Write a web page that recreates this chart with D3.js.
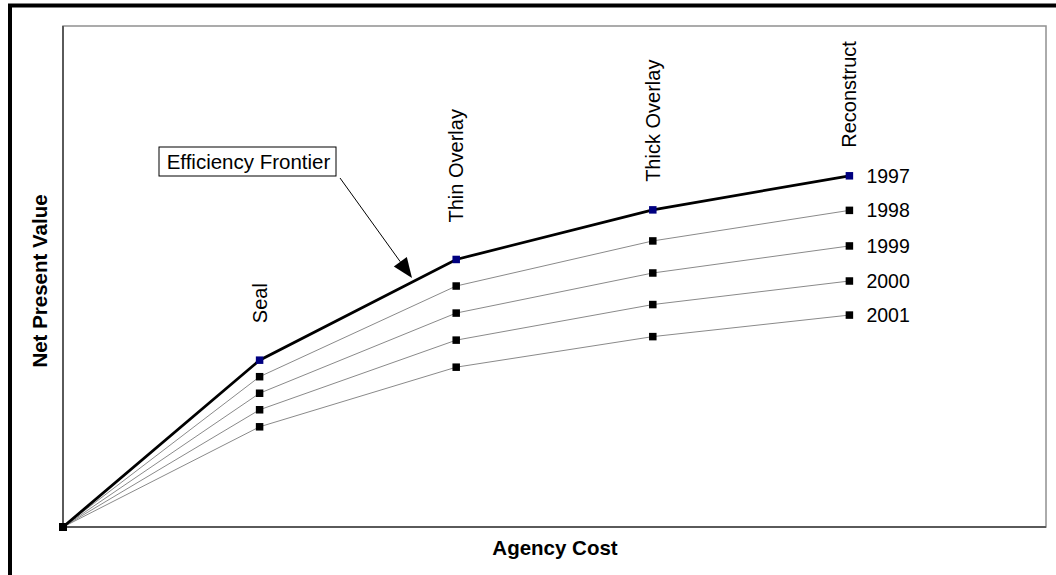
<!DOCTYPE html>
<html><head><meta charset="utf-8">
<script src="https://cdn.jsdelivr.net/npm/d3@7"></script>
<style>body{margin:0;background:#fff;}svg{display:block;font-family:"Liberation Sans",Arial,sans-serif;}</style>
</head><body>
<script>
const categories = ["", "Seal", "Thin Overlay", "Thick Overlay", "Reconstruct"];
const agencyCost = [0, 1, 2, 3, 4];
const years = ["1997", "1998", "1999", "2000", "2001"];
const npv1997 = [0, 33.3, 53.4, 63.3, 70.1];
const npv1998 = [0, 30.0, 48.1, 57.1, 63.2];
const npv1999 = [0, 26.7, 42.7, 50.7, 56.1];
const npv2000 = [0, 23.4, 37.3, 44.4, 49.1];
const npv2001 = [0, 20.0, 31.9, 38.0, 42.3];
const seriesValues = [npv1997, npv1998, npv1999, npv2000, npv2001];
const annotationText = "Efficiency Frontier";
const xTitle = "Agency Cost";
const yTitle = "Net Present Value";

const W = 1056, H = 575;
const svg = d3.select("body").append("svg").attr("width", W).attr("height", H);

// outer frame (cropped at right and bottom)
svg.append("rect").attr("x", 10).attr("y", 5.5).attr("width", W + 20).attr("height", H + 20)
  .attr("fill", "none").attr("stroke", "#000").attr("stroke-width", 4);

const pl = 63, pt = 26, pr = 1046, pb = 527;
const x = d3.scaleLinear().domain([0, 5]).range([pl, pr]);
const y = d3.scaleLinear().domain([0, 100]).range([pb, pt]);

// plot area
svg.append("rect").attr("x", pl).attr("y", pt).attr("width", pr - pl).attr("height", pb - pt)
  .attr("fill", "#fff").attr("stroke", "#909090").attr("stroke-width", 1.5);
svg.append("line").attr("x1", pl).attr("x2", pr).attr("y1", pb).attr("y2", pb)
  .attr("stroke", "#5a5a5a").attr("stroke-width", 2);
svg.append("line").attr("x1", pl).attr("x2", pl).attr("y1", pt).attr("y2", pb)
  .attr("stroke", "#5a5a5a").attr("stroke-width", 2);

const line = d3.line().x((d, i) => x(agencyCost[i])).y(d => y(d));

// lower series first
for (let s = seriesValues.length - 1; s >= 0; s--) {
  const vals = seriesValues[s];
  svg.append("path").attr("d", line(vals)).attr("fill", "none")
    .attr("stroke", s === 0 ? "#000" : "#8a8a8a")
    .attr("stroke-width", s === 0 ? 2.8 : 1);
}
const ms = 7.5;
seriesValues.forEach((vals, s) => {
  vals.forEach((v, i) => {
    if (i === 0) return;
    svg.append("rect").attr("x", x(agencyCost[i]) - ms / 2).attr("y", y(v) - ms / 2)
      .attr("width", ms).attr("height", ms)
      .attr("fill", s === 0 ? "#000080" : "#000");
  });
  // year label at last point
  const li = vals.length - 1;
  svg.append("text").attr("x", x(agencyCost[li]) + 17).attr("y", y(vals[li]))
    .attr("dy", "0.35em").attr("font-size", 19.5).attr("fill", "#000").text(years[s]);
});
// origin marker
svg.append("rect").attr("x", x(0) - 4).attr("y", y(0) - 4).attr("width", 8).attr("height", 8).attr("fill", "#000");

// category labels above frontier points
categories.forEach((c, i) => {
  if (!c) return;
  const px = x(agencyCost[i]), py = y(npv1997[i]) - (i <= 2 ? 37 : 28);
  svg.append("text").attr("transform", `translate(${px + 7},${py}) rotate(-90)`)
    .attr("font-size", 20).attr("fill", "#000").text(c);
});

// annotation
const bx = 159, by = 147, bw = 177, bh = 29;
svg.append("rect").attr("x", bx).attr("y", by).attr("width", bw).attr("height", bh)
  .attr("fill", "#fff").attr("stroke", "#000").attr("stroke-width", 1);
svg.append("text").attr("x", bx + bw / 2 + 1).attr("y", by + bh / 2).attr("dy", "0.36em")
  .attr("text-anchor", "middle").attr("font-size", 20.5).text(annotationText);

const ax1 = 340, ay1 = 178, ax2 = 412, ay2 = 278;
const ang = Math.atan2(ay2 - ay1, ax2 - ax1);
const hl = 20, hw = 8;
const bxp = ax2 - hl * Math.cos(ang), byp = ay2 - hl * Math.sin(ang);
svg.append("line").attr("x1", ax1).attr("y1", ay1).attr("x2", bxp).attr("y2", byp)
  .attr("stroke", "#000").attr("stroke-width", 1);
svg.append("path").attr("d", `M${ax2},${ay2}L${bxp + hw * Math.sin(ang)},${byp - hw * Math.cos(ang)}L${bxp - hw * Math.sin(ang)},${byp + hw * Math.cos(ang)}Z`)
  .attr("fill", "#000");

// axis titles
svg.append("text").attr("x", 555).attr("y", 548).attr("dy", "0.35em").attr("text-anchor", "middle")
  .attr("font-size", 20.5).attr("font-weight", "bold").text(xTitle);
svg.append("text").attr("transform", "translate(40,281) rotate(-90)").attr("dy", "0.35em")
  .attr("text-anchor", "middle").attr("font-size", 20.5).attr("font-weight", "bold").text(yTitle);
</script>
</body></html>
